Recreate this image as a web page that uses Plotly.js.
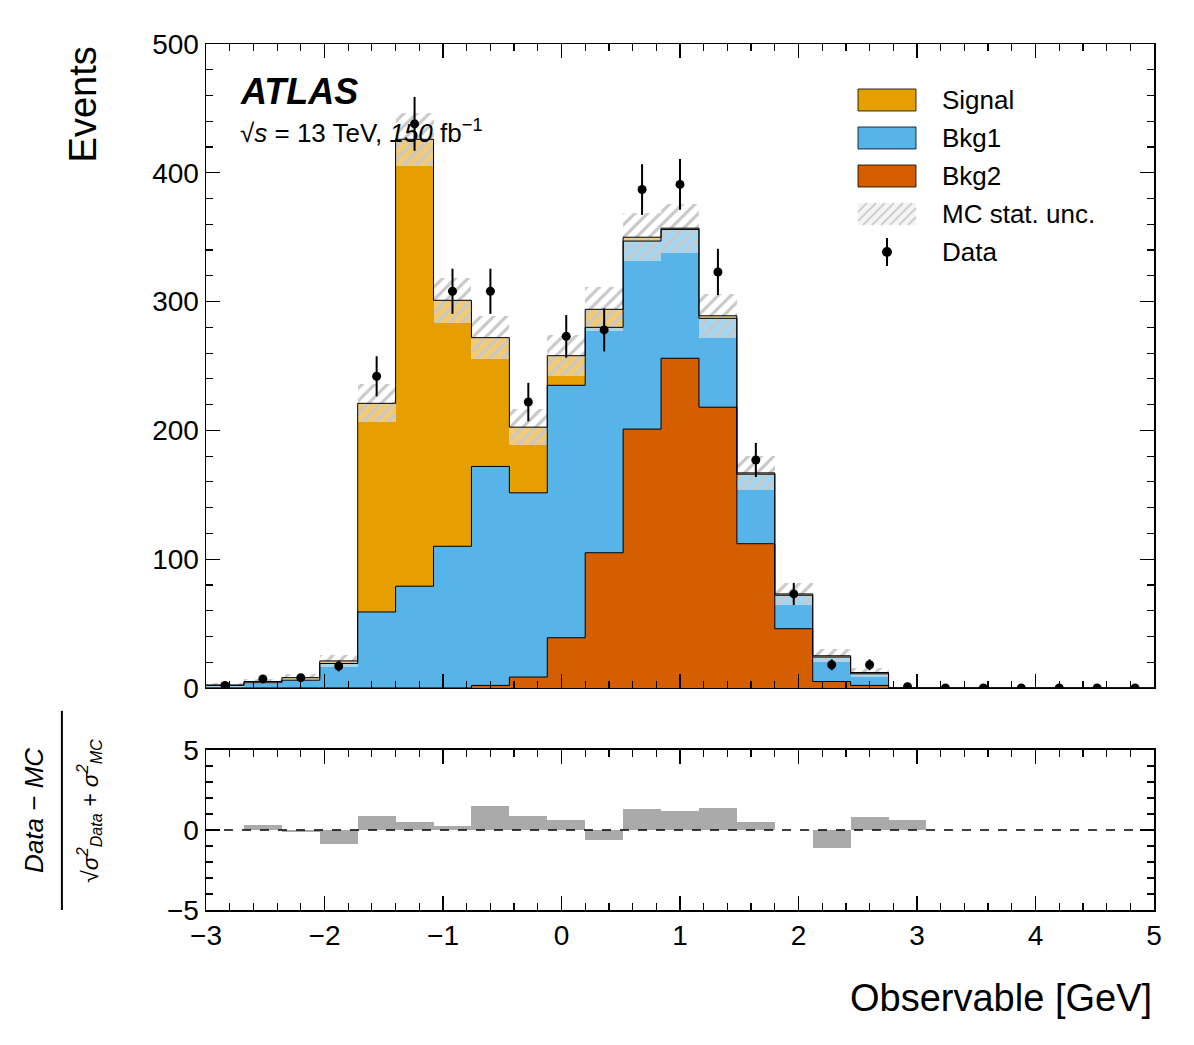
<!DOCTYPE html>
<html>
<head>
<meta charset="utf-8">
<script src="https://cdn.plot.ly/plotly-3.0.1.min.js"></script>
<style>body{margin:0;background:#fff}</style>
</head>
<body>
<div id="chart" style="width:1194px;height:1045px"></div>
<script>
// bin edges: 25 bins of width 0.32 from -3 to 5
const binEdges = [-3, -2.68, -2.36, -2.04, -1.72, -1.4, -1.08, -0.76, -0.44, -0.12, 0.2, 0.52, 0.84,
  1.16, 1.48, 1.8, 2.12, 2.44, 2.76, 3.08, 3.4, 3.72, 4.04, 4.36, 4.68, 5];
const binCenters = [-2.84, -2.52, -2.2, -1.88, -1.56, -1.24, -0.92, -0.6, -0.28, 0.04, 0.36, 0.68, 1.0,
  1.32, 1.64, 1.96, 2.28, 2.6, 2.92, 3.24, 3.56, 3.88, 4.2, 4.52, 4.84];

const signal = [0.3, 1, 2, 2, 162, 347, 191, 100, 51, 23, 14, 3, 1, 2, 1, 1, 1, 1, 0, 0, 0, 0, 0, 0, 0];
const bkg1 = [2, 4, 6, 19, 59, 79, 110, 170, 143, 196, 175, 146, 100, 69, 54, 26, 19, 9, 0, 0, 0, 0, 0, 0, 0];
const bkg2 = [0, 0, 0, 0, 0, 0, 0, 2, 8.5, 39, 105, 201, 256, 218, 112, 46, 5, 2, 0, 0, 0, 0, 0, 0, 0];
const data = [2, 7, 8, 17, 242, 438, 308, 308, 222, 273, 278, 387, 391, 323, 177, 73, 18, 18, 1, 0, 0, 0, 0, 0, 0];
const pull = [0, 0.3, -0.1, -0.9, 0.9, 0.5, 0.25, 1.5, 0.9, 0.6, -0.6, 1.3, 1.2, 1.4, 0.5, 0,
  -1.1, 0.8, 0.6, 0, 0, 0, 0, 0, 0];
const legendLabels = ['Signal', 'Bkg1', 'Bkg2', 'MC stat. unc.', 'Data'];

const cSig = '#E69F00', cB1 = '#56B4E9', cB2 = '#D55E00';
const width = binCenters.map(() => 0.32);

// stacked tops
const topB2 = bkg2.slice();
const topB1 = bkg1.map((v, i) => v + bkg2[i]);
const topAll = signal.map((v, i) => v + topB1[i]);
const mcUnc = topAll.map(v => Math.sqrt(v));
const dataErr = data.map(v => Math.sqrt(v));

function barTrace(y, color) {
  return {type: 'bar', x: binCenters, y: y, width: width,
    marker: {color: color, line: {width: 0}}, xaxis: 'x', yaxis: 'y'};
}
function stepTrace(y) {
  return {type: 'scatter', mode: 'lines', x: binEdges, y: y.concat([y[y.length - 1]]),
    line: {shape: 'hv', color: '#000', width: 1}, hoverinfo: 'skip', xaxis: 'x', yaxis: 'y'};
}

const traces = [
  barTrace(topAll, cSig),
  barTrace(topB1, cB1),
  barTrace(topB2, cB2),
  {type: 'bar', x: binCenters, y: mcUnc.map(u => 2 * u),
    base: topAll.map((v, i) => v - mcUnc[i]), width: width,
    marker: {color: 'rgba(255,255,255,0.45)', line: {width: 0},
      pattern: {shape: '/', fgcolor: '#c8c8c8', bgcolor: 'rgba(255,255,255,0.45)', size: 9, solidity: 0.35}},
    xaxis: 'x', yaxis: 'y'},
  stepTrace(topAll), stepTrace(topB1), stepTrace(topB2),
  {type: 'scatter', mode: 'markers', x: binCenters, y: data,
    marker: {color: '#000', size: 9},
    error_y: {type: 'data', array: dataErr, color: '#000', thickness: 2, width: 0},
    xaxis: 'x', yaxis: 'y'},
  {type: 'bar', x: binCenters, y: pull, width: width,
    marker: {color: '#aaaaaa', line: {width: 0}}, xaxis: 'x2', yaxis: 'y2'}
];

const font = {family: 'Liberation Sans, Arial, sans-serif', color: '#000'};
const axisBase = {showline: true, mirror: 'allticks', linecolor: '#000', linewidth: 1.5,
  ticks: 'inside', ticklen: 14, tickwidth: 1.2, tickcolor: '#000', showgrid: false, zeroline: false,
  tickfont: {size: 28}};

// custom legend (pixel positions inside the main plot)
const X0 = 206, PW = 948, Y0 = 688, PH = 644;
const xd = px => (px - X0) / PW, yd = py => (Y0 - py) / PH;
const shapes = [
  {type: 'line', xref: 'x2', yref: 'y2', x0: -3, x1: 5, y0: 0, y1: 0,
    line: {color: '#000', width: 1.3, dash: 'dash'}},
  {type: 'line', xref: 'paper', yref: 'paper', x0: -0.152, x1: -0.152, y0: 0.0, y1: 0.23,
    line: {color: '#000', width: 2}}
];
const annotations = [];
const rowY = [100, 138, 176, 214, 252];
const boxColors = [cSig, cB1, cB2];
legendLabels.forEach((lab, i) => {
  const cy = rowY[i];
  if (i < 3) {
    shapes.push({type: 'rect', xref: 'x domain', yref: 'y domain', x0: xd(858), x1: xd(916),
      y0: yd(cy + 11), y1: yd(cy - 11), fillcolor: boxColors[i], line: {color: '#000', width: 0.8}});
  } else if (i === 3) {
    shapes.push({type: 'rect', xref: 'x domain', yref: 'y domain', x0: xd(858), x1: xd(916),
      y0: yd(cy + 11), y1: yd(cy - 11), fillcolor: '#f4f4f4', line: {width: 0}});
    for (let a = 858 - 22; a < 916; a += 9) {
      let xa = a, ya = cy + 11, xb = a + 22, yb = cy - 11;
      if (xa < 858) { ya -= (858 - xa); xa = 858; }
      if (xb > 916) { yb += (xb - 916); xb = 916; }
      shapes.push({type: 'line', xref: 'x domain', yref: 'y domain', x0: xd(xa), x1: xd(xb),
        y0: yd(ya), y1: yd(yb), line: {color: '#cfcfcf', width: 2}});
    }
  } else {
    shapes.push({type: 'line', xref: 'x domain', yref: 'y domain', x0: xd(887), x1: xd(887),
      y0: yd(cy + 14), y1: yd(cy - 14), line: {color: '#000', width: 2}});
    shapes.push({type: 'circle', xref: 'x domain', yref: 'y domain', x0: xd(882), x1: xd(892),
      y0: yd(cy + 5), y1: yd(cy - 5), fillcolor: '#000', line: {width: 0}});
  }
  annotations.push({xref: 'x domain', yref: 'y domain', x: xd(940), y: yd(cy), xanchor: 'left',
    yanchor: 'middle', text: lab, showarrow: false, font: {size: 26}});
});

annotations.push(
  {xref: 'paper', yref: 'paper', x: -0.105, y: 1, xanchor: 'right', yanchor: 'top', textangle: -90,
    text: 'Events', showarrow: false, font: {size: 38}},
  {xref: 'paper', yref: 'paper', x: 1, y: -0.075, xanchor: 'right', yanchor: 'top',
    text: 'Observable [GeV]', showarrow: false, font: {size: 38}},
  {xref: 'x domain', yref: 'y domain', x: xd(238), y: yd(92), xanchor: 'left', yanchor: 'middle',
    text: '<b><i>ATLAS</i></b>', showarrow: false, font: {size: 36}},
  {xref: 'x domain', yref: 'y domain', x: xd(238), y: yd(132), xanchor: 'left', yanchor: 'middle',
    text: '\u221a<i>s</i> = 13 TeV, <i>150</i> fb<sup>\u22121</sup>', showarrow: false, font: {size: 26}},
  {xref: 'paper', yref: 'paper', x: -0.163, y: 0.115, xanchor: 'right', yanchor: 'middle', textangle: -90,
    text: '<i>Data \u2212 MC</i>', showarrow: false, font: {size: 26}},
  {xref: 'paper', yref: 'paper', x: -0.142, y: 0.115, xanchor: 'left', yanchor: 'middle', textangle: -90,
    text: '\u221a<i>\u03c3<sup>2</sup><sub>Data</sub> + \u03c3<sup>2</sup><sub>MC</sub></i>',
    showarrow: false, font: {size: 23}}
);

const layout = {
  width: 1194, height: 1045,
  margin: {l: 206, r: 40, t: 44, b: 135},
  paper_bgcolor: '#fff', plot_bgcolor: '#fff',
  font: font, barmode: 'overlay', bargap: 0,
  showlegend: false,
  xaxis: Object.assign({}, axisBase, {range: [-3, 5], dtick: 1, showticklabels: false,
    minor: {ticks: 'inside', dtick: 0.2, ticklen: 7, tickcolor: '#000'}, anchor: 'y', matches: 'x2'}),
  yaxis: Object.assign({}, axisBase, {range: [0, 500], dtick: 100, domain: [0.2564, 1],
    minor: {ticks: 'inside', dtick: 20, ticklen: 7, tickcolor: '#000'}, anchor: 'x'}),
  xaxis2: Object.assign({}, axisBase, {range: [-3, 5], dtick: 1, anchor: 'y2',
    minor: {ticks: 'inside', dtick: 0.2, ticklen: 7, tickcolor: '#000'}}),
  yaxis2: Object.assign({}, axisBase, {range: [-5, 5], tickvals: [-5, 0, 5], ticktext: ['\u22125', '0', '5'],
    domain: [0, 0.1848], anchor: 'x2',
    minor: {ticks: 'inside', dtick: 1, ticklen: 7, tickcolor: '#000'}}),
  shapes: shapes,
  annotations: annotations
};

Plotly.newPlot('chart', traces, layout, {displayModeBar: false, staticPlot: true});
</script>
</body>
</html>
